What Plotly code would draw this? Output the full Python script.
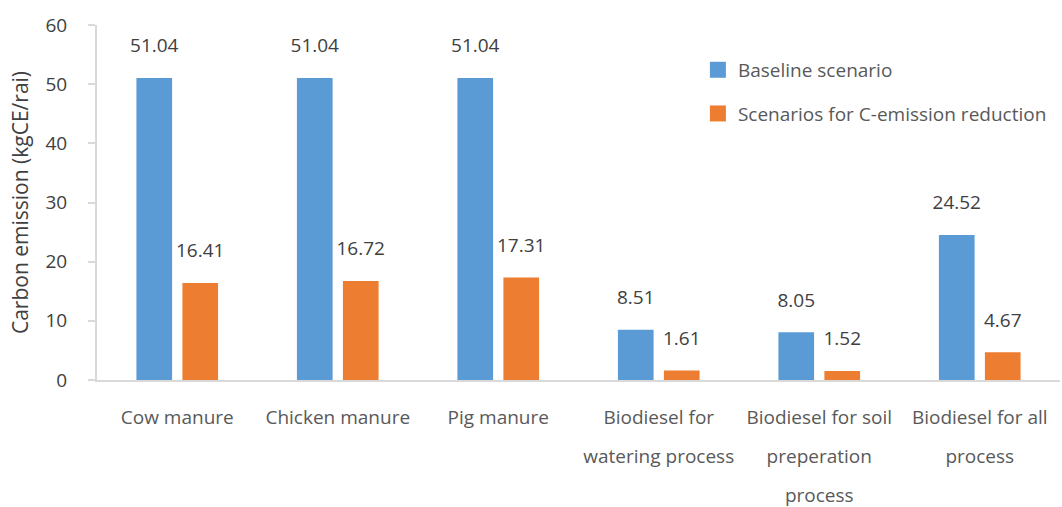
import plotly.graph_objects as go

categories = ["Cow manure", "Chicken manure", "Pig manure",
              "Biodiesel for watering process",
              "Biodiesel for soil preperation process",
              "Biodiesel for all process"]
tick_lines = [["Cow manure"], ["Chicken manure"], ["Pig manure"],
              ["Biodiesel for", "watering process"],
              ["Biodiesel for soil", "preperation", "process"],
              ["Biodiesel for all", "process"]]
baseline = [51.04, 51.04, 51.04, 8.51, 8.05, 24.52]
reduction = [16.41, 16.72, 17.31, 1.61, 1.52, 4.67]
series_names = ["Baseline scenario", "Scenarios for C-emission reduction"]
series_values = [baseline, reduction]
colors = ["#5B9BD5", "#ED7D31"]
y_ticks = [0, 10, 20, 30, 40, 50, 60]
y_title = "Carbon emission (kgCE/rai)"

FONT = "Open Sans"
fig = go.Figure()

for i, (name, vals, col) in enumerate(zip(series_names, series_values, colors)):
    fig.add_trace(go.Bar(x=categories, y=vals, name=name, marker_color=col,
                         marker_line_width=0, showlegend=False,
                         offsetgroup=str(i), hoverinfo="skip"))

for i, (name, vals) in enumerate(zip(series_names, series_values)):
    fig.add_trace(go.Scatter(x=categories, y=vals, mode="markers+text",
                             text=[f"{v:.2f}" for v in vals],
                             textposition="top center",
                             textfont=dict(family=FONT, size=19, color="#404040"),
                             marker=dict(size=32, opacity=0),
                             offsetgroup=str(i), alignmentgroup="lbl",
                             showlegend=False, cliponaxis=False, hoverinfo="skip"))

# legend entries
for i, (name, col) in enumerate(zip(series_names, colors)):
    fig.add_trace(go.Scatter(x=[None], y=[None], mode="markers", name=name,
                             marker=dict(symbol="square", size=17, color=col),
                             xaxis="x2", legendgroup=str(i)))

span = "<span style='font-size:19px'>{}</span>"
ticktext = ["<br>".join(span.format(t) for t in lines) for lines in tick_lines]

fig.update_layout(
    width=1062, height=507,
    margin=dict(l=97, r=2, t=25, b=126.5, autoexpand=False),
    paper_bgcolor="white", plot_bgcolor="white",
    barmode="group", bargap=0.427, bargroupgap=0.224,
    scattermode="group", scattergap=0.427,
    showlegend=True,
    legend=dict(x=0.624, y=0.927, xanchor="left", yanchor="top",
                font=dict(family=FONT, size=19, color="#595959"),
                tracegroupgap=16, bgcolor="rgba(0,0,0,0)"),
    xaxis=dict(type="category", range=[-0.5, 5.5],
               tickvals=categories, ticktext=ticktext, tickangle=0,
               tickfont=dict(family=FONT, size=30, color="#595959"),
               showline=True, linecolor="#D9D9D9", linewidth=2,
               ticks="", showgrid=False, zeroline=False,
               ticklabelstandoff=6, automargin=False),
    xaxis2=dict(overlaying="x", visible=False, range=[0, 1]),
    yaxis=dict(range=[0, 60], tickvals=y_ticks, ticks="outside", ticklen=7,
               tickcolor="#D9D9D9", tickwidth=2,
               showline=True, linecolor="#D9D9D9", linewidth=2,
               showgrid=False, zeroline=False,
               tickfont=dict(family=FONT, size=19, color="#404040"),
               ticklabelstandoff=17,
               title=dict(text=y_title, standoff=11,
                          font=dict(family=FONT, size=21, color="#404040")),
               automargin=False),
)

fig.write_html("out.html")
